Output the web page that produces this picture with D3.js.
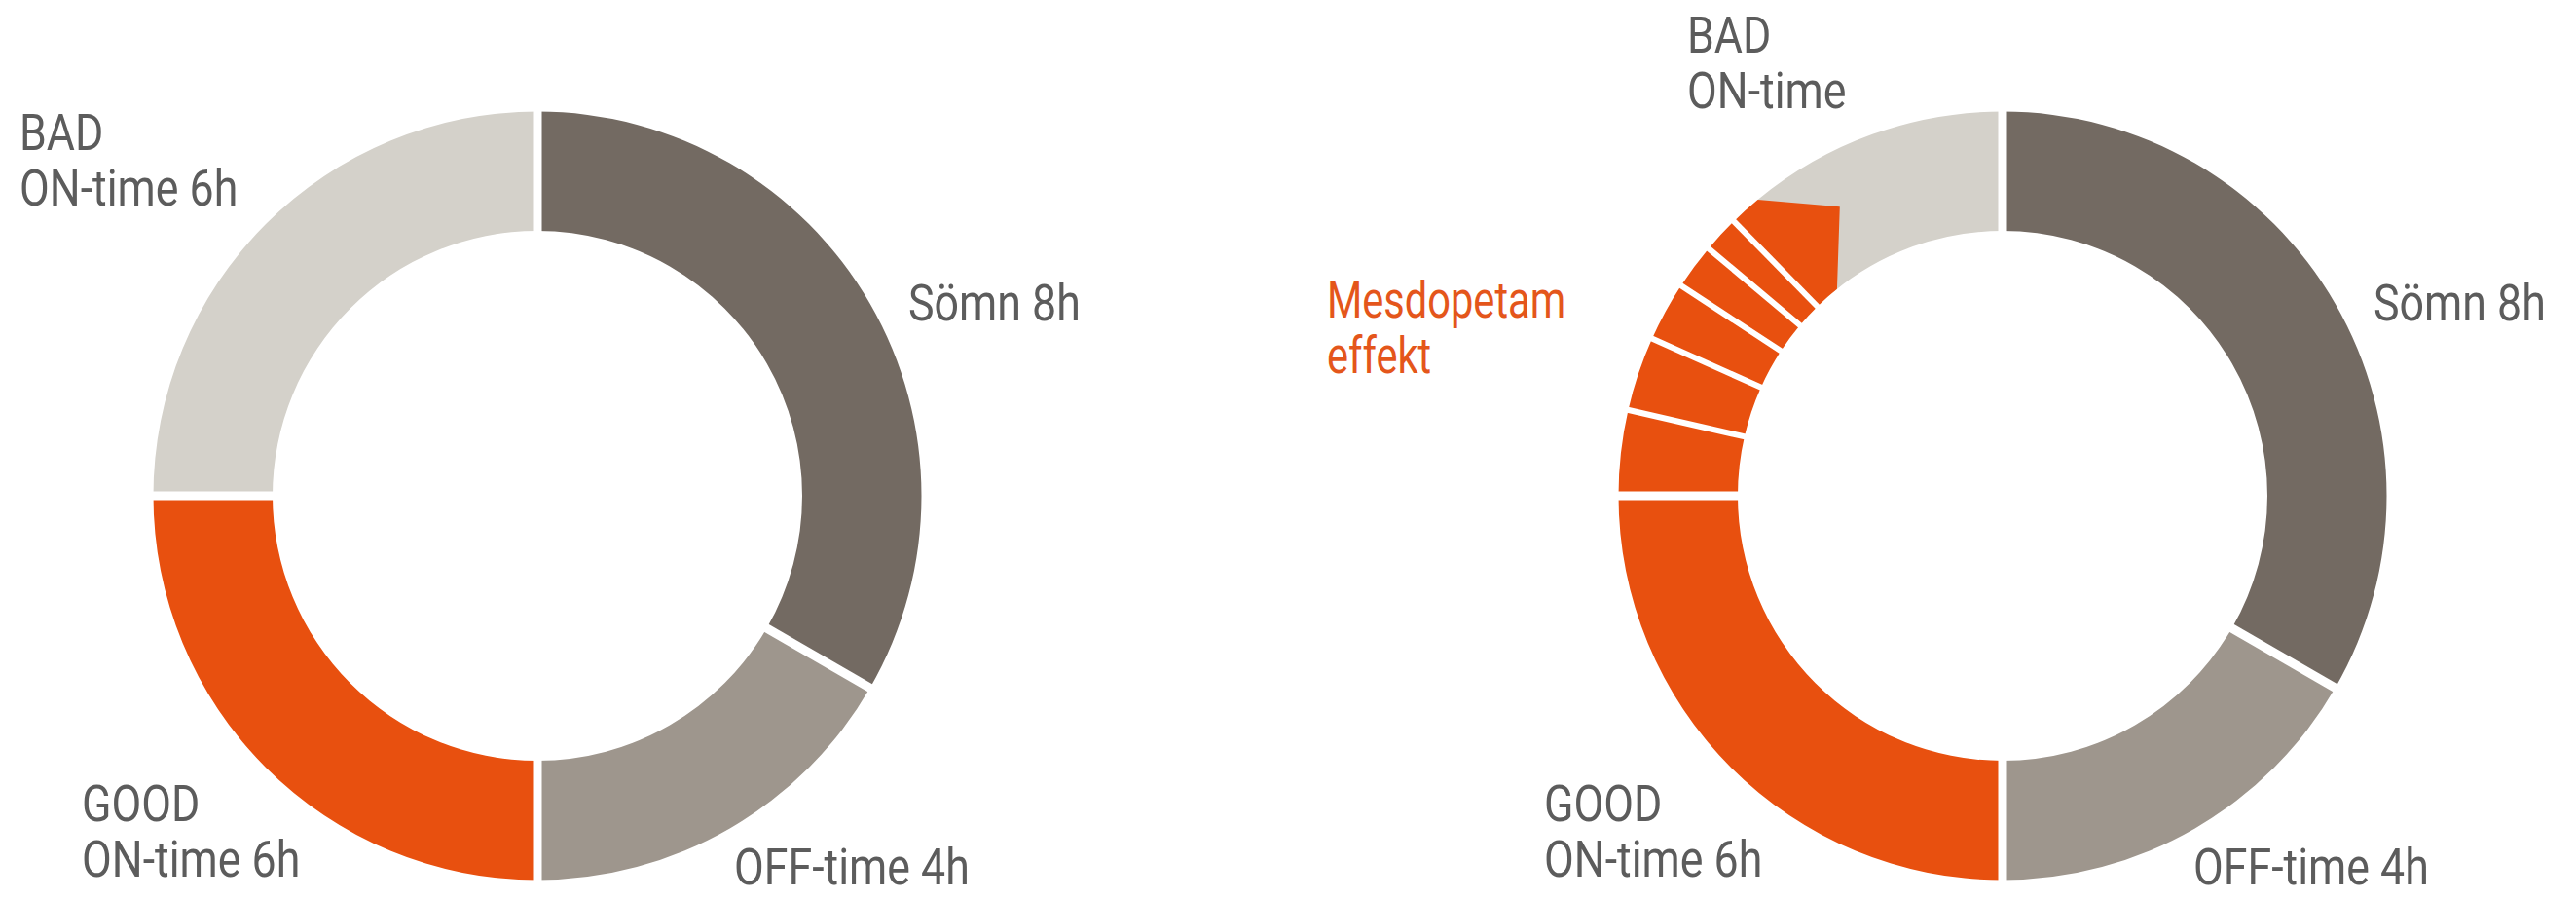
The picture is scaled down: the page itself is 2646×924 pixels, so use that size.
<!DOCTYPE html>
<html>
<head>
<meta charset="utf-8">
<script src="https://cdn.jsdelivr.net/npm/d3@7"></script>
<style>
  html, body { margin: 0; padding: 0; background: #ffffff; }
  svg { display: block; }
  text { font-family: 'Roboto', 'DejaVu Sans', sans-serif; }
</style>
</head>
<body>
<svg id="chart" width="2646" height="924"></svg>
<script>
// ---------------- DATA ----------------
const categories   = ["Sömn", "OFF-time", "GOOD ON-time", "BAD ON-time"];
const hoursBefore  = [8, 4, 6, 6];            // left donut (hours of 24)
const hoursAfter   = [8, 4, 6, 2.64];         // right donut, BAD shrinks
const effectHours  = [0.86, 0.75, 0.60, 0.46, 0.37, 0.32]; // Mesdopetam effekt pieces
const effectTip    = { hour: 22.04, radial: 0.56, innerEndHour: 21.42 }; // arrow-like last piece
const labelsLeft   = [["BAD", "ON-time 6h"], ["Sömn 8h"], ["GOOD", "ON-time 6h"], ["OFF-time 4h"]];
const labelsRight  = [["BAD", "ON-time"], ["Sömn 8h"], ["GOOD", "ON-time 6h"], ["OFF-time 4h"], ["Mesdopetam", "effekt"]];
const colors       = ["#736a62", "#9e968d", "#e8500f", "#d4d1ca"];

// ---------------- LAYOUT ----------------
const W = 2646, H = 924;
const R_OUT = 394.5, R_IN = 272;
const centers = [[552, 509], [2057, 509]];
const svg = d3.select("#chart");

const angle = d3.scaleLinear().domain([0, 24]).range([0, 2 * Math.PI]);
const radial = d3.scaleLinear().domain([0, 1]).range([R_IN, R_OUT]);
const arc = d3.arc().innerRadius(R_IN).outerRadius(R_OUT)
  .startAngle(d => angle(d.start)).endAngle(d => angle(d.end));

function pt(a, r) { return [r * Math.sin(a), -r * Math.cos(a)]; }

function cumulate(vals, offset = 0) {
  let acc = offset;
  return vals.map((v, i) => { const s = acc; acc += v; return { i, start: s, end: acc }; });
}

function gapLine(g, hour, width) {
  const a = angle(hour);
  const p0 = pt(a, R_IN - 4), p1 = pt(a, R_OUT + 4);
  g.append("line").attr("x1", p0[0]).attr("y1", p0[1]).attr("x2", p1[0]).attr("y2", p1[1])
    .attr("stroke", "#ffffff").attr("stroke-width", width);
}

function labels(g, list, spec) {
  list.forEach((lines, k) => {
    const s = spec[k];
    const t = g.append("text")
      .attr("transform", `translate(${s.x},${s.y}) scale(${s.sx || 0.86},1)`)
      .attr("font-size", 52).attr("fill", s.color || "#5c5c5c");
    lines.forEach((ln, j) => t.append("tspan").attr("x", 0).attr("dy", j === 0 ? 0 : 57).text(ln));
  });
}

// ---------------- LEFT DONUT ----------------
{
  const g = svg.append("g").attr("transform", `translate(${centers[0]})`);
  const segs = cumulate(hoursBefore);
  g.selectAll("path.seg").data(segs).join("path").attr("class", "seg")
    .attr("d", arc).attr("fill", d => colors[d.i]);
  segs.forEach(d => gapLine(g, d.start, 9));
}

// ---------------- RIGHT DONUT ----------------
{
  const g = svg.append("g").attr("transform", `translate(${centers[1]})`);
  const segs = cumulate(hoursAfter.slice(0, 3));
  const effSegs = cumulate(effectHours, segs[2].end);
  const badStart = 24 - hoursAfter[3];

  g.selectAll("path.seg").data(segs).join("path").attr("class", "seg")
    .attr("d", arc).attr("fill", d => colors[d.i]);
  // BAD ON-time (remaining)
  g.append("path").attr("d", arc({ start: badStart, end: 24 })).attr("fill", colors[3]);
  // effect pieces except last
  g.selectAll("path.eff").data(effSegs.slice(0, -1)).join("path").attr("class", "eff")
    .attr("d", arc).attr("fill", colors[2]);
  // last arrow-like piece
  const last = effSegs[effSegs.length - 1];
  const p = d3.path();
  const a0 = angle(last.start) - Math.PI / 2, a1 = angle(last.end) - Math.PI / 2;
  const s0 = pt(angle(last.start), R_OUT);
  p.moveTo(s0[0], s0[1]);
  p.arc(0, 0, R_OUT, a0, a1, false);
  const tip = pt(angle(effectTip.hour), radial(effectTip.radial));
  p.lineTo(tip[0], tip[1]);
  const ie = pt(angle(effectTip.innerEndHour), R_IN);
  p.lineTo(ie[0], ie[1]);
  p.arc(0, 0, R_IN, angle(effectTip.innerEndHour) - Math.PI / 2, a0, true);
  p.closePath();
  g.append("path").attr("d", p.toString()).attr("fill", colors[2]);

  // gaps
  [0, segs[0].end, segs[1].end, segs[2].end].forEach(h => gapLine(g, h, 9));
  effSegs.slice(1).forEach(d => gapLine(g, d.start, 6));
}

// ---------------- LABELS ----------------
labels(svg, labelsLeft, [
  { x: 20, y: 154 }, { x: 933, y: 329 }, { x: 84, y: 843 }, { x: 754, y: 908 }
]);
labels(svg, labelsRight, [
  { x: 1733, y: 54 }, { x: 2438, y: 329 }, { x: 1586, y: 843 }, { x: 2253, y: 908 },
  { x: 1363, y: 326, color: "#e4561b", sx: 0.8 }
]);
</script>
</body>
</html>
